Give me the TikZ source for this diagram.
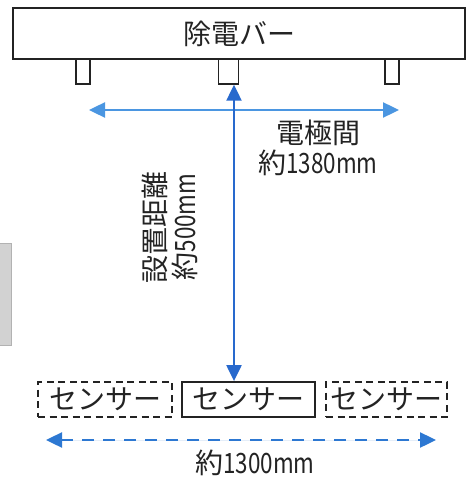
\documentclass[tikz,border=0pt]{standalone}
\usepackage{fontspec}
\setmainfont{Noto Sans CJK JP}
\newfontfamily\narrowlat[FakeStretch=0.8]{Noto Sans CJK JP}
\newcommand{\nl}[1]{{\narrowlat #1}}
\usetikzlibrary{arrows.meta}
\definecolor{lblue}{RGB}{75,150,225}
\definecolor{dblue}{RGB}{40,105,205}
\definecolor{mblue}{RGB}{45,120,210}
\definecolor{ink}{RGB}{35,35,35}
\begin{document}
\begin{tikzpicture}[x=1pt,y=-1pt,
  txt/.style={font=\fontsize{28}{30}\selectfont, text=ink, inner sep=0pt},
  barbox/.style={draw=ink, line width=2.5pt, inner sep=0pt, txt},
  elec/.style={draw=ink, line width=1.4pt, inner sep=0pt},
  sensor/.style={draw=ink, line width=1.8pt, inner sep=0pt, minimum height=35pt, txt},
  dsensor/.style={sensor, dash pattern=on 7pt off 4.5pt},
  arr/.style={line width=2.4pt, {Triangle[length=16pt,width=15pt]}-{Triangle[length=16pt,width=15pt]}}
]
\useasboundingbox (0,0) rectangle (467,478);
% scan artefact at left edge
\fill[gray!35, draw=gray!60, line width=1pt] (-2,243) rectangle (11,345);

\node[barbox, minimum width=452pt, minimum height=51pt] (bar) at (239,33.5) {除電バー};
\node[elec, minimum width=14pt, minimum height=25pt] (e1) at (83,71.5) {};
\node[elec, minimum width=20pt, minimum height=25pt] (e2) at (228.5,71.5) {};
\node[elec, minimum width=14pt, minimum height=25pt] (e3) at (392,71.5) {};

\node[dsensor, minimum width=134pt] (s1) at (105,399.5) {センサー};
\node[sensor, minimum width=133pt] (s2) at (248.5,399.5) {センサー};
\node[dsensor, minimum width=121pt] (s3) at (386.5,399.5) {センサー};

\coordinate (hl) at (89,110);
\coordinate (hr) at (399,110);
\coordinate (vt) at (e2.south -| 234,0);
\coordinate (vb) at (s2.north -| 234,0);
\coordinate (bl) at (46,440);
\coordinate (br) at (436,440);

\draw[arr, draw=lblue, fill=lblue] (hl) -- (hr);
\draw[arr, line width=2.2pt, draw=dblue, fill=dblue] (vt) -- (vb);
\draw[arr, draw=mblue, fill=mblue, dash pattern=on 12pt off 9pt] (bl) -- (br);

\node[txt, align=center] (el) at (318,148) {電極間\\約\nl{1380mm}};
\node[txt, align=center, rotate=90] (vl) at (170,227) {設置距離\\約\nl{500mm}};
\node[txt] (bt) at (255,463) {約\nl{1300mm}};
\end{tikzpicture}
\end{document}
